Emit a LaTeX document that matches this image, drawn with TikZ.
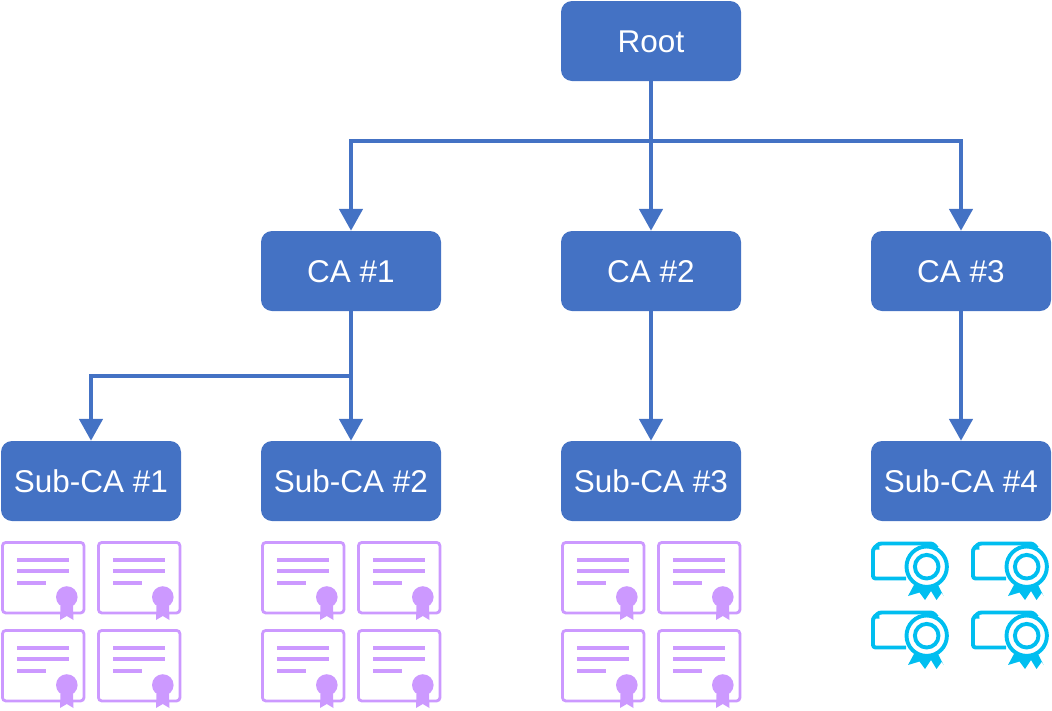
\documentclass[tikz,border=0pt]{standalone}
\usepackage{fontspec}
\setmainfont{Liberation Sans}
\usetikzlibrary{arrows.meta}
\definecolor{boxblue}{HTML}{4472C4}
\definecolor{certpurple}{HTML}{CC99FF}
\definecolor{certcyan}{HTML}{00BEF0}
\tikzset{
  cabox/.style={fill=boxblue,draw=none,rounded corners=11pt,minimum width=180pt,minimum height=80pt,inner sep=0pt,text=white,text height=22pt,text depth=0pt,font=\fontsize{31.5}{36}\selectfont},
  conn/.style={draw=boxblue,line width=4.7pt,-{Triangle[width=23pt,length=22pt]}},
  certdoc/.pic={
    \draw[certpurple,line width=2.8pt,rounded corners=3.5pt] (1.4,1.4) rectangle (83,72);
    \fill[certpurple] (16,17) rectangle (68,21);
    \fill[certpurple] (16,28) rectangle (68,32);
    \fill[certpurple] (16,39.5) rectangle (45,43.5);
    \fill[certpurple] (59.5,65) -- (59,79) -- (65.8,75) -- (72.5,79) -- (72,65) -- cycle;
    \fill[certpurple] (65.8,56) circle (10.8);
  },
  certseal/.pic={
    \draw[certcyan,line width=3.9pt,line join=round,rounded corners=2.5pt] (41,43.5) -- (8,43.5) -- (8,14) -- (14,8.5) -- (68,8.5) -- (72,13);
    \fill[certcyan] (6,14.5) -- (14,6.5) -- (14.5,14.5) -- cycle;
    \fill[certcyan] (50,48) -- (43,61) -- (54.5,57.5) -- (60,65) -- (66,56) -- (71.5,65) -- (77,57.5) -- (78.5,61) -- (72,48) -- cycle;
    \draw[certcyan,line width=3.9pt,fill=white] (61.7,31.7) circle (20.2);
    \draw[certcyan,line width=3.9pt] (61.7,31.7) circle (11.8);
  }
}
\begin{document}
\begin{tikzpicture}[x=1pt,y=-1pt]
\useasboundingbox (0,0) rectangle (1052,710);
% boxes
\node[cabox] (root) at (651,41) {Root};
\node[cabox] (ca1) at (351,271) {CA \#1};
\node[cabox] (ca2) at (651,271) {CA \#2};
\node[cabox] (ca3) at (961,271) {CA \#3};
\node[cabox] (sub1) at (91,481) {Sub-CA \#1};
\node[cabox] (sub2) at (351,481) {Sub-CA \#2};
\node[cabox] (sub3) at (651,481) {Sub-CA \#3};
\node[cabox] (sub4) at (961,481) {Sub-CA \#4};
% branch points
\coordinate (rootbranch) at (651,141);
\coordinate (cabranch) at (351,376);
% connectors
\draw[conn] (root.south) -- (ca2.north);
\draw[conn] (rootbranch) -| (ca1.north);
\draw[conn] (rootbranch) -| (ca3.north);
\draw[conn] (ca1.south) -- (sub2.north);
\draw[conn] (cabranch) -| (sub1.north);
\draw[conn] (ca2.south) -- (sub3.north);
\draw[conn] (ca3.south) -- (sub4.north);
% purple certificates
\foreach \cx in {1,97,261,357,561,657}
  \foreach \cy in {541,629}
    \pic at (\cx,\cy) {certdoc};
% cyan certificates
\foreach \cx in {865,965}
  \foreach \cy in {535,604}
    \pic at (\cx,\cy) {certseal};
\end{tikzpicture}
\end{document}
